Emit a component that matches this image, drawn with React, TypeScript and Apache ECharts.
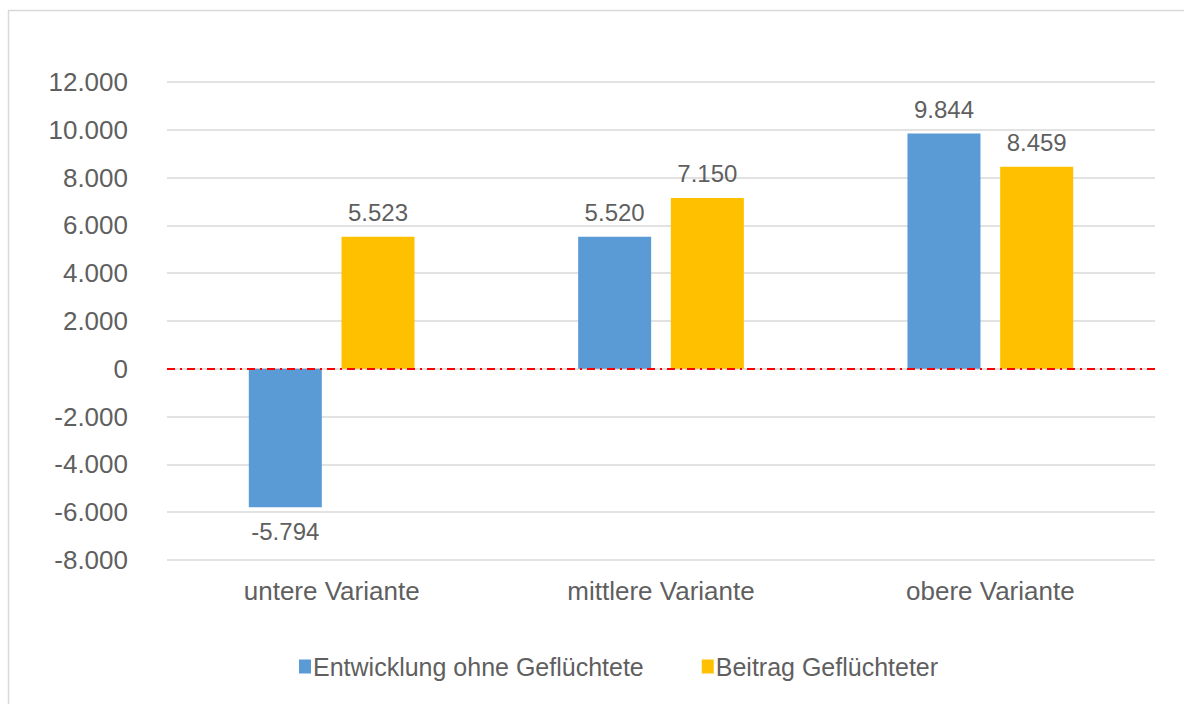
import React, { useEffect, useRef } from "react";
import * as echarts from "echarts";

const categories = ["untere Variante", "mittlere Variante", "obere Variante"];
const entwicklung = [-5794, 5520, 9844];
const beitrag = [5523, 7150, 8459];
const seriesNames = ["Entwicklung ohne Geflüchtete", "Beitrag Geflüchteter"];

const fmt = (v: number) => {
  const s = Math.abs(Math.round(v)).toString().replace(/\B(?=(\d{3})+(?!\d))/g, ".");
  return (v < 0 ? "-" : "") + s;
};

const FONT = "'Liberation Sans', Arial, sans-serif";
const TXT = "#5f5f5f";

export default function App() {
  const ref = useRef<HTMLDivElement>(null);
  useEffect(() => {
    if (!ref.current) return;
    const chart = echarts.init(ref.current, undefined, { renderer: "svg" });
    const labelStyle = {
      show: true,
      position: "top" as const,
      distance: 12,
      fontSize: 24,
      fontFamily: FONT,
      color: TXT,
      formatter: (p: any) => fmt(p.value),
    };
    chart.setOption({
      animation: false,
      backgroundColor: "#ffffff",
      textStyle: { fontFamily: FONT, color: TXT },
      graphic: [
        {
          type: "rect",
          shape: { x: 8.5, y: 10.5, width: 1300, height: 800 },
          style: { fill: "none", stroke: "#d9d9d9", lineWidth: 1.5 },
          silent: true,
          z: -10,
        },
      ],
      grid: { left: 167, right: 29, top: 82, bottom: 144, containLabel: false },
      legend: {
        bottom: 20,
        left: 294,
        itemWidth: 12,
        itemHeight: 14,
        itemGap: 58,
        icon: "rect",
        textStyle: { fontSize: 25, fontFamily: FONT, color: TXT, padding: [0, 0, 0, -3] },
        data: seriesNames,
      },
      xAxis: {
        type: "category",
        data: categories,
        axisLine: { show: false, onZero: false },
        axisTick: { show: false },
        axisLabel: { fontSize: 26, fontFamily: FONT, color: TXT, margin: 18 },
      },
      yAxis: {
        type: "value",
        min: -8000,
        max: 12000,
        interval: 2000,
        axisLine: { show: false },
        axisTick: { show: false },
        splitLine: { lineStyle: { color: "#d9d9d9", width: 1.5 } },
        axisLabel: {
          fontSize: 26,
          fontFamily: FONT,
          color: TXT,
          margin: 39,
          formatter: (v: number) => fmt(v),
        },
      },
      series: [
        {
          name: seriesNames[0],
          type: "bar",
          data: entwicklung.map((v) => ({
            value: v,
            label: { ...labelStyle, position: v < 0 ? "bottom" : "top" },
          })),
          barWidth: 73,
          barGap: "27%",
          itemStyle: { color: "#5b9bd5" },
          label: labelStyle,
          markLine: {
            silent: true,
            symbol: ["none", "none"],
            label: { show: false },
            lineStyle: { color: "#ff0000", width: 2, type: [8, 5, 2, 5] },
            data: [{ yAxis: 0 }],
            z: 10,
          },
        },
        {
          name: seriesNames[1],
          type: "bar",
          data: beitrag,
          barWidth: 73,
          barGap: "27%",
          itemStyle: { color: "#ffc000" },
          label: labelStyle,
        },
      ],
    });
    return () => chart.dispose();
  }, []);
  return (
    <div
      ref={ref}
      style={{ position: "fixed", left: 0, top: 0, width: 1184, height: 704 }}
    />
  );
}
